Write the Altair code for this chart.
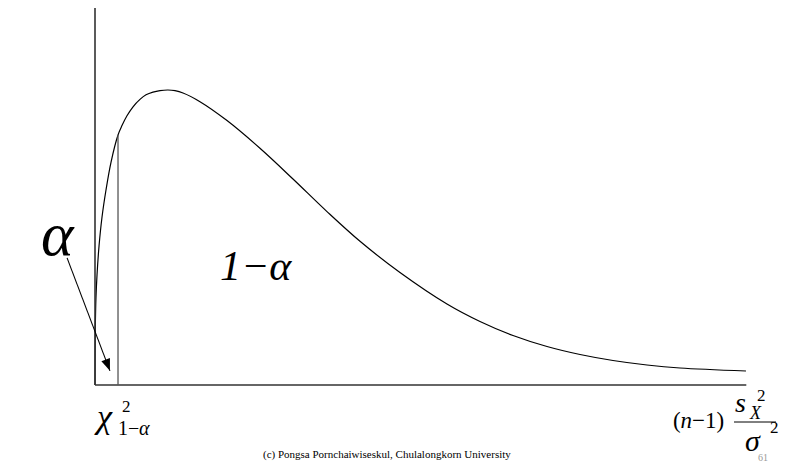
import altair as alt
import pandas as pd

# Curve (x: statistic units, y: density units)
curve_x = [0, 0.005, 0.015, 0.031, 0.062, 0.108, 0.169, 0.246, 0.354, 0.415, 0.492, 0.585,
           0.692, 0.785, 0.892, 1.0, 1.123, 1.231, 1.354, 1.615, 2.031, 2.538, 3.046, 3.569,
           4.077, 4.692, 5.415, 5.923, 6.431, 6.954, 7.462, 7.969, 8.492, 9.0, 10.015]
curve_y = [0, 1.966, 2.966, 3.729, 4.712, 5.695, 6.610, 7.55, 8.475, 8.793, 9.125, 9.431,
           9.681, 9.836, 9.929, 9.980, 10.0, 9.976, 9.898, 9.603, 8.963, 8.024, 6.983, 5.878,
           4.871, 3.814, 2.746, 2.153, 1.678, 1.305, 1.034, 0.831, 0.678, 0.576, 0.475]

crit_x = 0.354          # chi^2_{1-alpha}
crit_y = 8.475
axis_x_end = 10.02
axis_y_top = 12.78
arrow_from = (-0.43, 4.31)
arrow_to = (0.23, 0.48)

X_DOMAIN = [-1.3385, 10.6308]
Y_DOMAIN = [-2.7119, 12.7797]
W, H = 778, 457

FOOTER = "(c) Pongsa Pornchaiwiseskul, Chulalongkorn University"
PAGE = "61"

xs = alt.Scale(domain=X_DOMAIN, nice=False, zero=False)
ys = alt.Scale(domain=Y_DOMAIN, nice=False, zero=False)
X = lambda f: alt.X(f, type="quantitative", scale=xs, axis=None)
Y = lambda f: alt.Y(f, type="quantitative", scale=ys, axis=None)

curve_df = pd.DataFrame({"x": curve_x, "y": curve_y, "o": range(len(curve_x))})
curve = alt.Chart(curve_df).mark_line(color="black", strokeWidth=1.2, interpolate="catmull-rom").encode(
    x=X("x"), y=Y("y"), order="o:Q")

axes_df = pd.DataFrame({"x": [0, 0], "x2": [0, axis_x_end], "y": [0, 0], "y2": [axis_y_top, 0]})
axes = alt.Chart(axes_df).mark_rule(color="#333", strokeWidth=1.6).encode(
    x=X("x"), x2="x2", y=Y("y"), y2="y2")

crit_df = pd.DataFrame({"x": [crit_x], "y": [0], "y2": [crit_y]})
crit = alt.Chart(crit_df).mark_rule(color="#555", strokeWidth=1.3).encode(
    x=X("x"), y=Y("y"), y2="y2")

arrow_df = pd.DataFrame({"x": [arrow_from[0]], "y": [arrow_from[1]],
                         "x2": [arrow_to[0]], "y2": [arrow_to[1]]})
arrow_line = alt.Chart(arrow_df).mark_rule(color="black", strokeWidth=1.1).encode(
    x=X("x"), y=Y("y"), x2="x2", y2="y2")
head_df = pd.DataFrame({"x": [arrow_to[0]], "y": [arrow_to[1]]})
arrow_head = alt.Chart(head_df).mark_point(
    shape="M0,0L-0.38,1L0.38,1Z", filled=True, color="black", size=576, angle=159, opacity=1
).encode(x=X("x"), y=Y("y"))

dummy = pd.DataFrame({"a": [0]})
SERIF = "Liberation Serif"


def txt(s, px, py, size, italic=False, color="black"):
    return alt.Chart(dummy).mark_text(
        text=s, font=SERIF, fontSize=size, fontStyle="italic" if italic else "normal",
        align="left", baseline="alphabetic", color=color
    ).encode(x=alt.value(px - 8), y=alt.value(py - 8))


texts = [
    txt("α", 41, 255, 62, True),
    txt("1−α", 220, 280, 42, True),
    txt("χ", 97, 428, 34, True),
    txt("2", 122, 412, 17),
    txt("1−", 118, 435, 20),
    txt("α", 139, 435, 20, True),
    txt("(", 673, 428, 23),
    txt("n", 680.5, 428, 23, True),
    txt("−1)", 692, 428, 23),
    txt("s", 735, 412, 28, True),
    txt("2", 757, 401, 17),
    txt("X", 750, 419, 18, True),
    txt("σ", 745, 451, 30, True),
    txt("2", 770, 433, 17),
    txt(FOOTER, 263, 458, 11),
    txt(PAGE, 758, 461, 10, color="#999"),
]

bar = alt.Chart(dummy).mark_rule(color="black", strokeWidth=1).encode(
    x=alt.value(734 - 8), x2=alt.value(776 - 8), y=alt.value(422 - 8))

chart = alt.layer(curve, axes, crit, arrow_line, arrow_head, bar, *texts).properties(
    width=W, height=H, padding=0, autosize=alt.AutoSizeParams(type="none")
).configure_view(stroke=None)

chart.save("out.html", embed_options={"renderer": "svg", "actions": False})
